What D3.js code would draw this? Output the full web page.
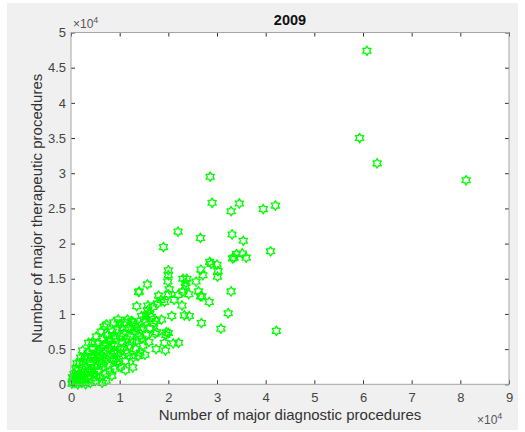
<!DOCTYPE html>
<html>
<head>
<meta charset="utf-8">
<script src="https://cdn.jsdelivr.net/npm/d3@7"></script>
<style>
  body { margin: 0; background: #fff; }
  text { font-family: "Liberation Sans", Arial, sans-serif; }
</style>
</head>
<body>
<svg id="chart" width="525" height="432"></svg>
<script>
// number of major diagnostic procedures per hospital (x)
const diagnostic = [
  60800,59300,62900,81200,28600,29000,32900,34600,39500,42000,
  22000,26600,19000,33100,35400,41000,33500,34000,35200,36000,
  33200,28500,28800,30000,30200,30100,26700,27100,26200,26600,
  26900,28400,32900,32300,26800,30800,42200,20000,20000,19900,
  20200,20000,23000,23800,23600,23500,25700,24200,23000,22000,
  21200,22800,23300,24300,20700,19600,20000,19400,17500,19200,
  21000,22100,15700,13900,14000,13500,18000,17300,12800,12700,
  3600,7300,18500,19200,17800,17600,19500,15800,15700,17000,
  17500,18600,16200,16500,15200,15000,14500,14400,15500,16000,
  13800,14200,14800,13500,13000,13200,12500,12200,12000,11500,
  11200,11800,11000,10800,10500,10200,9800,9500,10000,9500,
  9200,9000,8800,8600,9000,8500,8200,8000,7800,7600,
  8000,7500,7200,7000,6800,6600,7000,6500,6200,6000,
  5800,5600,6000,5500,5200,5000,4800,4600,5000,4500,
  4200,4000,3800,3600,4000,3500,3200,3000,2800,2600,
  3000,2500,2200,2000,1800,2200,1500,1200,1000,800,
  500,400,200,600,1400,1800,1000,2800,2400,4400,
  5200,6200,6800,8800,9700,10600,11400,11600,12600,13300,
  14000,14800,15400,16200,16800,11200,10200,8400,7200,6400,
  9500,8300,7400,6300,5400,4700,3400,2700,1600,1200,
  300,800,5800,6700,7700,8700,9300,10300,10900,11900,
  12400,12800,13600,14600,15200,4200,5200,5700,3200,2000
];

// number of major therapeutic procedures per hospital (y)
const therapeutic = [
  47400,35000,31400,29000,29500,25800,24600,25700,24900,25400,
  21700,20800,19500,21300,20400,18900,18000,18500,18600,18000,
  17900,17400,17100,17000,16100,15300,16300,15500,13200,12500,
  12500,11700,13200,10100,8700,7900,7600,16200,15500,14600,
  13500,12800,15000,15000,14400,13900,14600,12800,13200,12700,
  12000,11200,9800,9700,9700,7400,7300,4800,5000,5900,
  5800,5900,14200,13100,13200,11100,12600,7200,3800,2400,
  5900,8500,12000,11700,11500,7400,7000,11200,10500,8600,
  9000,9200,8000,9600,8800,9200,9700,7800,7000,6000,
  4000,4500,5500,6200,7500,8500,9000,6800,5500,4500,
  3300,8000,8800,7200,6000,5000,4000,3000,8500,7800,
  6500,5500,4500,3500,2200,7500,6200,5000,4000,2800,
  1800,7000,5800,4800,3800,2500,1500,6500,5200,4200,
  3200,2000,1000,5800,4500,3500,2500,1500,500,5000,
  4000,3000,2000,1000,200,4500,3500,2500,1500,600,
  0,3200,2200,1400,700,200,2000,1200,600,200,
  800,300,100,1500,0,3000,2200,4000,4800,6000,
  6800,7500,8200,8800,9200,8000,6500,9200,6000,5000,
  6800,8000,9800,10000,11000,2000,2500,1200,500,200,
  4500,5500,3500,3000,2800,4000,1800,1000,400,3000,
  1000,1200,4800,5500,6200,6800,3600,6800,5200,4000,
  7800,8800,8000,6500,4200,1800,1200,3800,500,3800
];

const xTicks = [0,1,2,3,4,5,6,7,8,9];                        // x 10^4
const yTicks = [0,0.5,1,1.5,2,2.5,3,3.5,4,4.5,5];            // x 10^4
const titleText = "2009";
const xLabel = "Number of major diagnostic procedures";
const yLabel = "Number of major therapeutic procedures";

const plot = {left: 71, right: 509, top: 32.5, bottom: 384.3};

const svg = d3.select("#chart");

// grey figure background
svg.append("rect")
  .attr("x", 7).attr("y", 3).attr("width", 511).attr("height", 427)
  .attr("fill", "#f0f0f0");

svg.append("rect")
  .attr("x", plot.left).attr("y", plot.top)
  .attr("width", plot.right - plot.left).attr("height", plot.bottom - plot.top)
  .attr("fill", "#fff");

const x = d3.scaleLinear().domain([0, 90000]).range([plot.left, plot.right]);
const y = d3.scaleLinear().domain([0, 50000]).range([plot.bottom, plot.top]);

const fmt = d => d3.format("~g")(d / 10000);

// hexagram marker
const R = 4.8, r = R / Math.sqrt(3);
const hexagram = d3.range(12).map(i => {
  const a = -Math.PI / 2 + i * Math.PI / 6;
  const rad = i % 2 === 0 ? R : r;
  return [rad * Math.cos(a), rad * Math.sin(a)];
});
const hexPath = "M" + hexagram.map(p => p[0].toFixed(2) + "," + p[1].toFixed(2)).join("L") + "Z";

svg.append("g")
  .selectAll("path")
  .data(diagnostic.map((d, i) => [d, therapeutic[i]]))
  .join("path")
  .attr("d", hexPath)
  .attr("transform", d => `translate(${x(d[0])},${y(d[1])})`)
  .attr("fill", "none")
  .attr("stroke", "#00ff00")
  .attr("stroke-width", 1.3)
  .attr("stroke-linejoin", "round");

// axes (ticks point inward, MATLAB style)
const tickVals = xTicks.map(v => v * 10000);
const yTickVals = yTicks.map(v => v * 10000);

function styleAxis(g) {
  g.select(".domain").remove();
  g.selectAll(".tick line").attr("stroke", "#333");
  g.selectAll(".tick text").attr("fill", "#444").style("font-size", "13px");
}

svg.append("g")
  .attr("transform", `translate(0,${plot.bottom})`)
  .call(d3.axisBottom(x).tickValues(tickVals).tickFormat(fmt).tickSizeInner(-4).tickSizeOuter(0).tickPadding(8))
  .call(styleAxis);

svg.append("g")
  .attr("transform", `translate(0,${plot.top})`)
  .call(d3.axisTop(x).tickValues(tickVals).tickFormat("").tickSizeInner(-4).tickSizeOuter(0))
  .call(styleAxis);

svg.append("g")
  .attr("transform", `translate(${plot.left},0)`)
  .call(d3.axisLeft(y).tickValues(yTickVals).tickFormat(fmt).tickSizeInner(-4).tickSizeOuter(0).tickPadding(5))
  .call(styleAxis);

svg.append("g")
  .attr("transform", `translate(${plot.right},0)`)
  .call(d3.axisRight(y).tickValues(yTickVals).tickFormat("").tickSizeInner(-4).tickSizeOuter(0))
  .call(styleAxis);

// box
svg.append("rect")
  .attr("x", plot.left).attr("y", plot.top)
  .attr("width", plot.right - plot.left).attr("height", plot.bottom - plot.top)
  .attr("fill", "none").attr("stroke", "#a6a6a6").attr("stroke-width", 1);

// title and labels
svg.append("text")
  .attr("x", (plot.left + plot.right) / 2).attr("y", 25)
  .attr("text-anchor", "middle")
  .style("font-size", "14.5px").style("font-weight", "bold").attr("fill", "#111")
  .text(titleText);

svg.append("text")
  .attr("x", (plot.left + plot.right) / 2).attr("y", 420)
  .attr("text-anchor", "middle")
  .style("font-size", "15px").attr("fill", "#333")
  .text(xLabel);

svg.append("text")
  .attr("transform", `translate(42,${(plot.top + plot.bottom) / 2}) rotate(-90)`)
  .attr("text-anchor", "middle")
  .style("font-size", "15px").attr("fill", "#333")
  .text(yLabel);

// exponent labels
function expLabel(xPos, yPos) {
  const t = svg.append("text").attr("x", xPos).attr("y", yPos)
    .style("font-size", "12px").attr("fill", "#555");
  t.append("tspan").text("\u00d710");
  t.append("tspan").attr("dy", -5).style("font-size", "9px").text("4");
}
expLabel(73, 28);
expLabel(477, 424);
</script>
</body>
</html>
